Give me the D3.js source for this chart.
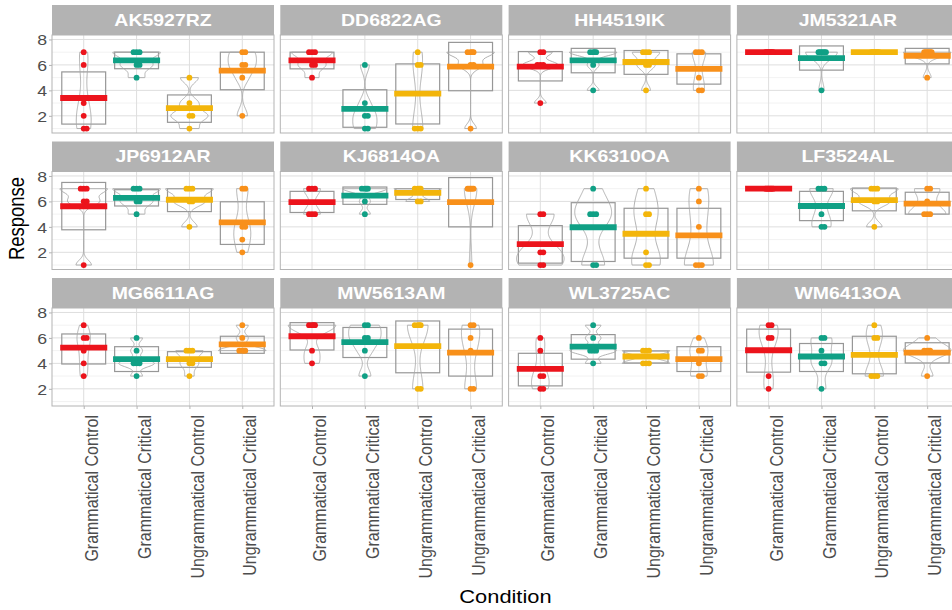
<!DOCTYPE html>
<html>
<head>
<meta charset="utf-8">
<script src="https://cdn.jsdelivr.net/npm/d3@7"></script>
<style>
    body { margin: 0; background: #ffffff; }
    text { font-family: "Liberation Sans", Arial, sans-serif; }
</style>
</head>
<body>
<svg id="chart" width="952" height="610"></svg>
<script>
var participants = ["AK5927RZ", "DD6822AG", "HH4519IK", "JM5321AR",
    "JP6912AR", "KJ6814OA", "KK6310OA", "LF3524AL",
    "MG6611AG", "MW5613AM", "WL3725AC", "WM6413OA"];
var conditions = ["Grammatical Control", "Grammatical Critical", "Ungrammatical Control", "Ungrammatical Critical"];
var conditionColors = ["#ec141c", "#10a085", "#f3b50a", "#f8901a"];
var yTicks = [2, 4, 6, 8];
var yMinorTicks = [1, 3, 5, 7];

// responses per participant, one list per condition
var responses = [
    [[7, 6, 3, 2, 1, 1], [7, 7, 7, 6, 6, 5], [5, 3, 2, 2, 1], [7, 7, 6, 6, 5, 2]],
    [[7, 7, 7, 6, 6, 5], [6, 3, 2, 2, 1, 1], [7, 6, 6, 1, 1, 1], [7, 7, 7, 7, 6, 6, 1]],
    [[7, 7, 6, 6, 6, 3], [7, 7, 7, 7, 6, 4], [7, 7, 7, 6, 6, 4], [7, 7, 7, 5, 4, 4]],
    [[7, 7, 7, 7, 7, 7], [7, 7, 7, 7, 7, 7, 4], [7, 7, 7, 7, 7, 7], [7, 7, 7, 7, 7, 7, 5]],
    [[7, 7, 7, 6, 6, 1], [7, 7, 7, 6, 6, 5], [7, 7, 7, 6, 6, 4], [7, 7, 4, 4, 3, 2]],
    [[7, 7, 7, 5, 5, 5], [7, 7, 7, 7, 6, 5], [7, 7, 7, 7, 6, 6], [7, 7, 7, 7, 7, 1]],
    [[5, 5, 2, 2, 1, 1], [7, 5, 5, 5, 1, 1], [7, 5, 5, 2, 1, 1], [7, 6, 4, 1, 1, 1]],
    [[7, 7, 7, 7, 7, 7], [7, 7, 7, 5, 4, 4], [7, 7, 7, 6, 6, 4], [7, 7, 6, 5, 5, 5]],
    [[7, 6, 6, 5, 4, 3], [6, 5, 4, 4, 4, 3], [5, 5, 5, 4, 4, 3], [7, 6, 5, 5, 5, 5]],
    [[7, 7, 7, 7, 5, 4], [7, 7, 6, 6, 5, 3], [7, 7, 7, 7, 2, 2], [7, 7, 6, 5, 2, 2]],
    [[6, 5, 3, 3, 2, 2], [7, 6, 5, 5, 5, 4], [5, 5, 5, 4, 4, 4], [6, 5, 5, 4, 3, 3]],
    [[7, 7, 6, 6, 3, 2], [6, 6, 5, 4, 4, 2], [7, 6, 6, 3, 3, 3], [6, 5, 5, 5, 5, 3]]
];

// mean lines (thick coloured bars)
var meanResponse = [
    [3.4, 6.35, 2.6, 5.55],
    [6.36, 2.55, 3.74, 5.87],
    [5.87, 6.36, 6.23, 5.69],
    [7, 6.54, 7, 6.72],
    [5.62, 6.28, 6.13, 4.36],
    [5.95, 6.46, 6.67, 5.95],
    [2.64, 3.97, 3.46, 3.33],
    [7, 5.64, 6.1, 5.82],
    [5.23, 4.33, 4.33, 5.49],
    [6.13, 5.67, 5.36, 4.85],
    [3.56, 5.31, 4.54, 4.33],
    [5.03, 4.54, 4.67, 4.85]
];

// interval boxes, lower and upper edge
var intervalLow = [
    [1.35, 5.7, 1.49, 4.05],
    [5.69, 1.1, 1.36, 3.97],
    [4.74, 5.38, 5.26, 4.49],
    [7, 5.59, 7, 6.08],
    [3.77, 5.64, 5.2, 2.62],
    [5.13, 5.77, 6.15, 4.0],
    [1.15, 1.28, 1.54, 1.54],
    [7, 4.49, 5.26, 5.0],
    [3.95, 3.36, 3.69, 4.79],
    [5.05, 4.46, 3.26, 3.0],
    [2.23, 4.33, 4.03, 3.36],
    [3.31, 3.36, 3.18, 4.03]
];
var intervalHigh = [
    [5.45, 7.0, 3.64, 7.0],
    [7.0, 4.05, 6.08, 7.77],
    [7.05, 7.3, 7.13, 6.87],
    [7, 7.49, 7, 7.3],
    [7.49, 6.92, 7.0, 5.97],
    [6.79, 7.13, 7.0, 7.87],
    [4.1, 5.9, 5.46, 5.46],
    [7, 6.79, 7.05, 6.72],
    [6.31, 5.31, 4.92, 6.13],
    [7.2, 6.82, 7.33, 6.69],
    [4.79, 6.26, 4.97, 5.31],
    [6.69, 5.56, 6.13, 5.62]
];

var svg = d3.select("#chart");

var left0 = 52, top0 = 5;
var panelW = 222, panelH = 98, stripH = 30;
var colStep = 228.3, rowStep = 136.5;
var stretch = 1.18; // text in the original is a bit wider than tall
var nRows = 3;

var x = d3.scalePoint()
    .domain(conditions)
    .range([0, panelW])
    .padding(0.6);

var y = d3.scaleLinear()
    .domain([0.65, 8.35])
    .range([panelH, 0]);

var color = d3.scaleOrdinal()
    .domain(conditions)
    .range(conditionColors);

var step = x.step();
var boxHalf = step * 0.415;
var meanHalf = step * 0.445;
var violinHalf = step * 0.45;
var bwAdjust = 0.8;

// bw.nrd0 as in R
function bandwidth(vals) {
    var s = vals.slice().sort(d3.ascending);
    var hi = d3.deviation(s) || 0;
    var lo = Math.min(hi, (d3.quantile(s, 0.75) - d3.quantile(s, 0.25)) / 1.34);
    if (!lo) lo = hi || Math.abs(s[0]) || 1;
    return 0.9 * lo * Math.pow(s.length, -0.2);
}

function density(vals) {
    var bw = bandwidth(vals) * bwAdjust;
    var lo = d3.min(vals), hi = d3.max(vals);
    return d3.range(0, 81).map(function (k) {
        var v = lo + (hi - lo) * k / 80;
        var d = d3.mean(vals, function (p) {
            return Math.exp(-0.5 * Math.pow((v - p) / bw, 2));
        }) / (bw * Math.sqrt(2 * Math.PI));
        return { v: v, d: d };
    });
}

var jitterSteps = [0, 3, -3, 1.5, -1.5, 4.5, -4.5];

participants.forEach(function (name, i) {
    var col = i % 4, row = Math.floor(i / 4);
    var g = svg.append("g")
        .attr("transform", "translate(" + (left0 + col * colStep) + "," + (top0 + row * rowStep) + ")");

    // strip
    g.append("rect")
        .attr("width", panelW)
        .attr("height", stripH)
        .attr("fill", "#b3b3b3");
    g.append("text")
        .attr("transform", "translate(" + panelW / 2 + "," + stripH / 2 + ") scale(" + stretch + ",1)")
        .attr("dy", "0.36em")
        .style("text-anchor", "middle")
        .style("font-size", "16.5px")
        .style("font-weight", "bold")
        .style("fill", "#ffffff")
        .text(name);

    var p = g.append("g").attr("transform", "translate(0," + stripH + ")");

    // grid
    p.selectAll(".minor").data(yMinorTicks).enter().append("line")
        .attr("x1", 0).attr("x2", panelW)
        .attr("y1", d => y(d)).attr("y2", d => y(d))
        .attr("stroke", "#ededed").attr("stroke-width", 0.7);
    p.selectAll(".major").data(yTicks).enter().append("line")
        .attr("x1", 0).attr("x2", panelW)
        .attr("y1", d => y(d)).attr("y2", d => y(d))
        .attr("stroke", "#dedede").attr("stroke-width", 1);
    p.selectAll(".vgrid").data(conditions).enter().append("line")
        .attr("x1", d => x(d)).attr("x2", d => x(d))
        .attr("y1", 0).attr("y2", panelH)
        .attr("stroke", "#dedede").attr("stroke-width", 1);

    // densities, scaled by the largest one in this panel
    var dens = responses[i].map(function (vals) {
        return d3.min(vals) < d3.max(vals) ? density(vals) : null;
    });
    var maxD = d3.max(dens, d => d ? d3.max(d, e => e.d) : 0) || 1;

    conditions.forEach(function (c, j) {
        var cx = x(c);

        // interval box
        p.append("rect")
            .attr("x", cx - boxHalf)
            .attr("y", y(intervalHigh[i][j]))
            .attr("width", boxHalf * 2)
            .attr("height", y(intervalLow[i][j]) - y(intervalHigh[i][j]))
            .attr("fill", "none")
            .attr("stroke", "#979797")
            .attr("stroke-width", 1.2);

        // violin
        if (dens[j]) {
            var area = d3.area()
                .y(d => y(d.v))
                .x0(d => cx - d.d / maxD * violinHalf)
                .x1(d => cx + d.d / maxD * violinHalf)
                .curve(d3.curveBasis);
            p.append("path")
                .datum(dens[j])
                .attr("d", area)
                .attr("fill", "none")
                .attr("stroke", "#a8a8a8")
                .attr("stroke-width", 0.9);
        }

        // mean line
        p.append("line")
            .attr("x1", cx - meanHalf).attr("x2", cx + meanHalf)
            .attr("y1", y(meanResponse[i][j])).attr("y2", y(meanResponse[i][j]))
            .attr("stroke", color(c))
            .attr("stroke-width", 5.8);

        // points
        var seen = {};
        p.selectAll(".pt" + j)
            .data(responses[i][j])
            .enter().append("circle")
            .attr("cx", function (d) {
                var k = seen[d] || 0;
                seen[d] = k + 1;
                return cx + jitterSteps[k % jitterSteps.length];
            })
            .attr("cy", d => y(d))
            .attr("r", 2.9)
            .attr("fill", color(c));
    });

    // border
    p.append("rect")
        .attr("width", panelW)
        .attr("height", panelH)
        .attr("fill", "none")
        .attr("stroke", "#b3b3b3")
        .attr("stroke-width", 1);

    // Y-axis on first column
    if (col === 0) {
        var ya = p.append("g")
            .call(d3.axisLeft(y).tickValues(yTicks).tickSize(3));
        ya.select(".domain").remove();
        ya.selectAll("line").attr("stroke", "#b3b3b3");
        ya.selectAll("text")
            .attr("x", 0)
            .attr("dy", "0.36em")
            .attr("transform", "translate(-5,0) scale(" + stretch + ",1)")
            .style("font-size", "15px")
            .style("fill", "#4d4d4d");
    }

    // X-axis on last row
    if (row === nRows - 1) {
        var xa = p.append("g")
            .attr("transform", "translate(0," + panelH + ")")
            .call(d3.axisBottom(x).tickSize(3));
        xa.select(".domain").remove();
        xa.selectAll("line").attr("stroke", "#b3b3b3");
        xa.selectAll("text")
            .attr("x", 0)
            .attr("y", 0)
            .attr("dy", "0.72em")
            .attr("transform", "translate(0,9) scale(" + stretch + ",1) rotate(-90)")
            .style("text-anchor", "end")
            .style("font-size", "16px")
            .style("fill", "#4d4d4d");
    }
});

// Y-axis label
svg.append("text")
    .attr("transform", "translate(16," + (top0 + stripH + (2 * rowStep + panelH) / 2 - 2) + ") scale(" + stretch + ",1) rotate(-90)")
    .attr("dy", "0.35em")
    .style("text-anchor", "middle")
    .style("font-size", "18.5px")
    .style("fill", "#000")
    .text("Response");

// X-axis label
svg.append("text")
    .attr("transform", "translate(" + (left0 + (3 * colStep + panelW) / 2) + ",603) scale(" + stretch + ",1)")
    .style("text-anchor", "middle")
    .style("font-size", "18.5px")
    .style("fill", "#000")
    .text("Condition");
</script>
</body>
</html>
